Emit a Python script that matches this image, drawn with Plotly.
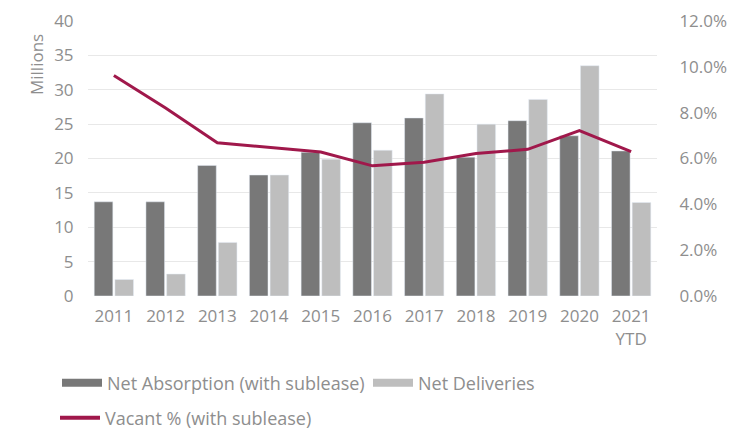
import plotly.graph_objects as go

years = ["2011", "2012", "2013", "2014", "2015", "2016", "2017", "2018", "2019", "2020", "2021<br>YTD"]
net_absorption = [13.7, 13.7, 19.0, 17.6, 20.9, 25.2, 25.9, 20.2, 25.5, 23.3, 21.1]
net_deliveries = [2.4, 3.2, 7.8, 17.6, 19.9, 21.2, 29.4, 25.0, 28.6, 33.5, 13.6]
vacant_pct = [9.62, 8.2, 6.69, 6.47, 6.28, 5.68, 5.84, 6.22, 6.40, 7.22, 6.30]
left_ticks = [0, 5, 10, 15, 20, 25, 30, 35, 40]
right_ticks = [0, 2, 4, 6, 8, 10, 12]

DARK = "#787878"
LIGHT = "#bebebe"
RED = "#a0184b"
TXT = "#8e8e8e"
FONT = "Open Sans"

# plot area in pixels
L, R, T, B = 88, 657, 21, 296
PW, PH = R - L, B - T


def px_x(x):
    return (x - L) / PW


def px_y(y):
    return (B - y) / PH


fig = go.Figure()
fig.add_trace(go.Bar(x=years, y=net_absorption, marker_color=DARK, showlegend=False,
                     name="Net Absorption (with sublease)"))
fig.add_trace(go.Bar(x=years, y=net_deliveries, marker_color=LIGHT, showlegend=False,
                     name="Net Deliveries"))
fig.add_trace(go.Scatter(x=years, y=vacant_pct, yaxis="y2", mode="lines",
                         line=dict(color=RED, width=3), showlegend=False,
                         name="Vacant % (with sublease)"))
# legend entries
fig.add_trace(go.Scatter(x=[None], y=[None], mode="lines", line=dict(color=DARK, width=8),
                         name="Net Absorption (with sublease)", legend="legend"))
fig.add_trace(go.Scatter(x=[None], y=[None], mode="lines", line=dict(color=LIGHT, width=8),
                         name="Net Deliveries", legend="legend3"))
fig.add_trace(go.Scatter(x=[None], y=[None], mode="lines", line=dict(color=RED, width=4),
                         name="Vacant % (with sublease)", legend="legend2"))

leg_common = dict(orientation="h", xanchor="left", yanchor="middle", itemwidth=40,
                  font=dict(family=FONT, size=18, color=TXT), bgcolor="rgba(0,0,0,0)")

fig.update_layout(
    width=740, height=429,
    margin=dict(l=L, r=740 - R, t=T, b=429 - B, autoexpand=False),
    paper_bgcolor="white", plot_bgcolor="white",
    font=dict(family=FONT, color=TXT, size=17),
    barmode="group", bargap=0.2, bargroupgap=0.1,
    xaxis=dict(type="category", showgrid=False, showline=False, ticks="outside",
               ticklen=5, tickcolor="white", automargin=False,
               tickfont=dict(family=FONT, size=17, color=TXT)),
    yaxis=dict(range=[0, 40], tickvals=left_ticks, showgrid=True, gridcolor="#e8e8e8",
               gridwidth=1, zeroline=False, showline=False, ticks="outside", ticklen=10,
               tickcolor="white", automargin=False,
               tickfont=dict(family=FONT, size=17, color=TXT)),
    yaxis2=dict(range=[0, 12], overlaying="y", side="right", tickvals=right_ticks,
                ticktext=[f"{v:.1f}%" for v in right_ticks], showgrid=False,
                zeroline=False, showline=False, ticks="outside", ticklen=18,
                tickcolor="white", automargin=False,
                tickfont=dict(family=FONT, size=17, color=TXT)),
    legend=dict(x=px_x(57), y=px_y(383), **leg_common),
    legend3=dict(x=px_x(368), y=px_y(383), **leg_common),
    legend2=dict(x=px_x(55), y=px_y(418), **leg_common),
    annotations=[dict(text="Millions", x=px_x(36), y=px_y(64), xref="paper", yref="paper",
                      xanchor="center", yanchor="middle", showarrow=False, textangle=-90,
                      font=dict(family=FONT, size=17, color=TXT))],
)

fig.write_html("out.html")
